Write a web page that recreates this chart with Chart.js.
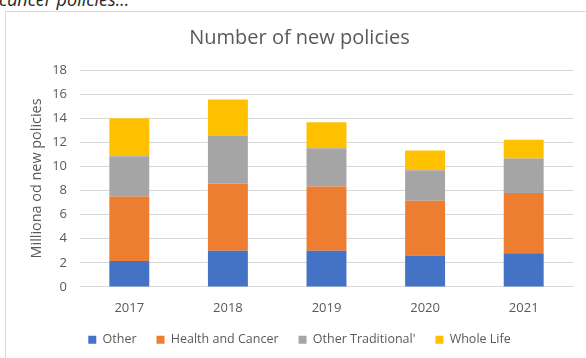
<!DOCTYPE html>
<html>
<head>
<meta charset="utf-8">
<script src="https://cdn.jsdelivr.net/npm/chart.js@4.4.0/dist/chart.umd.min.js"></script>
<style>
  html, body { margin: 0; padding: 0; background: #fff; overflow: hidden; }
  body { width: 586px; height: 358px; position: relative; }
  #caption {
    position: absolute; left: -1px; top: -11px; line-height: 20px;
    font-style: italic; font-size: 18px; font-family: "Open Sans", sans-serif;
    color: #262626; white-space: nowrap;
  }
  #box {
    position: absolute; left: 5px; top: 11px; width: 590px; height: 380px;
    border-left: 1px solid #d9d9d9; border-top: 1px solid #d9d9d9;
  }
  #wrap { position: absolute; left: 6px; top: 12px; width: 580px; height: 344px; }
</style>
</head>
<body>
<div id="caption">cancer policies...</div>
<div id="box"></div>
<div id="wrap"><canvas id="chart"></canvas></div>
<script>
// Veriler
const years = ['2017', '2018', '2019', '2020', '2021'];
const other = [2.15, 3.0, 3.0, 2.6, 2.8];
const healthCancer = [5.35, 5.58, 5.33, 4.55, 5.0];
const otherTraditional = [3.35, 3.98, 3.17, 2.53, 2.86];
const wholeLife = [3.15, 3.0, 2.17, 1.63, 1.55];
const yTicks = [0, 2, 4, 6, 8, 10, 12, 14, 16, 18];

const textColor = '#595959';
const fontFamily = '"Open Sans", sans-serif';

const ctx = document.getElementById('chart').getContext('2d');
new Chart(ctx, {
    type: 'bar',
    data: {
        labels: years,
        datasets: [
            { label: 'Other', data: other, backgroundColor: '#4472C4' },
            { label: 'Health and Cancer', data: healthCancer, backgroundColor: '#ED7D31' },
            { label: "Other Traditional'", data: otherTraditional, backgroundColor: '#A5A5A5' },
            { label: 'Whole Life', data: wholeLife, backgroundColor: '#FFC000' }
        ]
    },
    options: {
        responsive: true,
        maintainAspectRatio: false,
        animation: false,
        datasets: {
            bar: { barPercentage: 0.405, categoryPercentage: 1 }
        },
        layout: { padding: { left: 20, right: 13, top: 4, bottom: 0 } },
        plugins: {
            tooltip: { enabled: false },
            title: {
                display: true,
                text: 'Number of new policies',
                color: textColor,
                font: { family: fontFamily, size: 20, weight: 'normal' },
                padding: { top: 10, bottom: 20 }
            },
            legend: {
                position: 'bottom',
                labels: {
                    color: textColor,
                    font: { family: fontFamily, size: 12.5 },
                    boxWidth: 8,
                    boxHeight: 8,
                    padding: 20
                }
            }
        },
        scales: {
            x: {
                stacked: true,
                // lejant ile eksen arasını daralt
                afterFit: axis => { axis.height -= 17; },
                grid: { display: false, drawTicks: false },
                border: { color: '#d9d9d9' },
                ticks: { color: textColor, font: { family: fontFamily, size: 13 }, padding: 14 }
            },
            y: {
                stacked: true,
                min: 0,
                max: 18,
                afterBuildTicks: axis => { axis.ticks = yTicks.map(v => ({ value: v })); },
                // eksen genişliğini sabitle
                afterFit: axis => { axis.width = 54; },
                grid: { color: '#d9d9d9', drawTicks: false },
                border: { display: false },
                ticks: { color: textColor, font: { family: fontFamily, size: 13 }, padding: 13 },
                title: {
                    display: true,
                    text: 'Milliona od new policies',
                    color: textColor,
                    font: { family: fontFamily, size: 14.4 },
                    padding: { top: 2, bottom: 0 }
                }
            }
        }
    }
});
</script>
</body>
</html>
